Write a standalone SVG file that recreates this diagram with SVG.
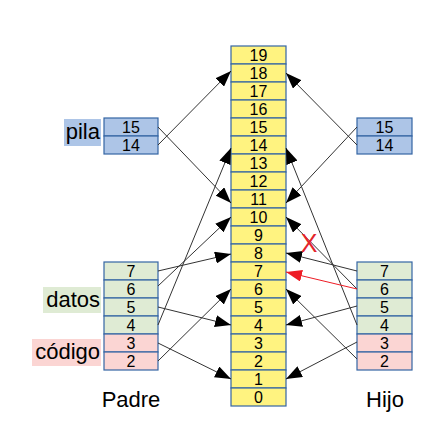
<svg xmlns="http://www.w3.org/2000/svg" width="444" height="439" viewBox="0 0 444 439">
<style>
.c{stroke:#3465a4;stroke-width:1.2}
.y{fill:#fff380}
.b{fill:#adc5e7}
.g{fill:#dfebd4}
.p{fill:#fbd5d3}
.n{font-family:"Liberation Sans",Arial,sans-serif;font-size:16px;text-anchor:middle;fill:#000}
.l{font-family:"Liberation Sans",Arial,sans-serif;font-size:22px;fill:#000}
.k{stroke:#333;stroke-width:1;fill:none}
.r{stroke:#ee1c25;stroke-width:1;fill:none}
</style>
<defs>
<marker id="ah" markerWidth="16" markerHeight="12" refX="16" refY="6" orient="auto" markerUnits="userSpaceOnUse"><path d="M0,0 L16,6 L0,12 z" fill="#000"/></marker>
<marker id="ahr" markerWidth="16" markerHeight="12" refX="16" refY="6" orient="auto" markerUnits="userSpaceOnUse"><path d="M0,0 L16,6 L0,12 z" fill="#ee1c25"/></marker>
</defs>
<rect width="444" height="439" fill="#fff"/>

<g id="memoria">
<g class="c y">
<rect x="231" y="46" width="55" height="18"/><rect x="231" y="64" width="55" height="18"/><rect x="231" y="82" width="55" height="18"/><rect x="231" y="100" width="55" height="18"/><rect x="231" y="118" width="55" height="18"/><rect x="231" y="136" width="55" height="18"/><rect x="231" y="154" width="55" height="18"/><rect x="231" y="172" width="55" height="18"/><rect x="231" y="190" width="55" height="18"/><rect x="231" y="208" width="55" height="18"/><rect x="231" y="226" width="55" height="18"/><rect x="231" y="244" width="55" height="18"/><rect x="231" y="262" width="55" height="18"/><rect x="231" y="280" width="55" height="18"/><rect x="231" y="298" width="55" height="18"/><rect x="231" y="316" width="55" height="18"/><rect x="231" y="334" width="55" height="18"/><rect x="231" y="352" width="55" height="18"/><rect x="231" y="370" width="55" height="18"/><rect x="231" y="388" width="55" height="18"/>
</g>
<g class="n">
<text x="258.5" y="60.6">19</text><text x="258.5" y="78.6">18</text><text x="258.5" y="96.6">17</text><text x="258.5" y="114.6">16</text><text x="258.5" y="132.6">15</text><text x="258.5" y="150.6">14</text><text x="258.5" y="168.6">13</text><text x="258.5" y="186.6">12</text><text x="258.5" y="204.6">11</text><text x="258.5" y="222.6">10</text><text x="258.5" y="240.6">9</text><text x="258.5" y="258.6">8</text><text x="258.5" y="276.6">7</text><text x="258.5" y="294.6">6</text><text x="258.5" y="312.6">5</text><text x="258.5" y="330.6">4</text><text x="258.5" y="348.6">3</text><text x="258.5" y="366.6">2</text><text x="258.5" y="384.6">1</text><text x="258.5" y="402.6">0</text>
</g>
</g>

<g id="padre-pila">
<rect x="64" y="119" width="37" height="27" class="b"/>
<text x="100" y="138.5" class="l" text-anchor="end">pila</text>
<rect x="104" y="118" width="54" height="18" class="c b"/><rect x="104" y="136" width="54" height="18" class="c b"/>
<text x="131" y="132.6" class="n">15</text><text x="131" y="150.6" class="n">14</text>
</g>

<g id="padre-datos">
<rect x="43" y="287" width="58" height="26" class="g"/>
<text x="100" y="306.5" class="l" text-anchor="end">datos</text>
<rect x="104" y="262" width="54" height="18" class="c g"/><rect x="104" y="280" width="54" height="18" class="c g"/><rect x="104" y="298" width="54" height="18" class="c g"/><rect x="104" y="316" width="54" height="18" class="c g"/>
<text x="131" y="276.6" class="n">7</text><text x="131" y="294.6" class="n">6</text><text x="131" y="312.6" class="n">5</text><text x="131" y="330.6" class="n">4</text>
</g>

<g id="padre-codigo">
<rect x="32" y="339" width="69" height="27" class="p"/>
<text x="100" y="359" class="l" text-anchor="end">código</text>
<rect x="104" y="334" width="54" height="18" class="c p"/><rect x="104" y="352" width="54" height="18" class="c p"/>
<text x="131" y="348.6" class="n">3</text><text x="131" y="366.6" class="n">2</text>
</g>

<g id="padre-label"><text x="131" y="407" class="l" text-anchor="middle">Padre</text></g>

<g id="hijo-pila">
<rect x="357" y="118" width="55" height="18" class="c b"/><rect x="357" y="136" width="55" height="18" class="c b"/>
<text x="384.5" y="132.6" class="n">15</text><text x="384.5" y="150.6" class="n">14</text>
</g>

<g id="hijo-datos">
<rect x="357" y="262" width="55" height="18" class="c g"/><rect x="357" y="280" width="55" height="18" class="c g"/><rect x="357" y="298" width="55" height="18" class="c g"/><rect x="357" y="316" width="55" height="18" class="c g"/>
<text x="384.5" y="276.6" class="n">7</text><text x="384.5" y="294.6" class="n">6</text><text x="384.5" y="312.6" class="n">5</text><text x="384.5" y="330.6" class="n">4</text>
</g>

<g id="hijo-codigo">
<rect x="357" y="334" width="55" height="18" class="c p"/><rect x="357" y="352" width="55" height="18" class="c p"/>
<text x="384.5" y="348.6" class="n">3</text><text x="384.5" y="366.6" class="n">2</text>
</g>

<g id="hijo-label"><text x="385" y="407" class="l" text-anchor="middle">Hijo</text></g>

<g id="connectors">
<line x1="158" y1="145" x2="231" y2="71" class="k" marker-end="url(#ah)"/>
<line x1="158" y1="127" x2="231" y2="203" class="k" marker-end="url(#ah)"/>
<line x1="158" y1="271" x2="231" y2="254" class="k" marker-end="url(#ah)"/>
<line x1="158" y1="286" x2="231" y2="217" class="k" marker-end="url(#ah)"/>
<line x1="158" y1="307" x2="231" y2="325" class="k" marker-end="url(#ah)"/>
<line x1="158" y1="325" x2="231" y2="148" class="k" marker-end="url(#ah)"/>
<line x1="158" y1="343" x2="231" y2="379" class="k" marker-end="url(#ah)"/>
<line x1="158" y1="361" x2="231" y2="289" class="k" marker-end="url(#ah)"/>

<line x1="357" y1="145" x2="286" y2="73" class="k" marker-end="url(#ah)"/>
<line x1="357" y1="127" x2="286" y2="203" class="k" marker-end="url(#ah)"/>
<line x1="357" y1="271" x2="286" y2="253" class="k" marker-end="url(#ah)"/>
<line x1="357" y1="289" x2="286" y2="217" class="k" marker-end="url(#ah)"/>
<line x1="357" y1="306" x2="286" y2="325" class="k" marker-end="url(#ah)"/>
<line x1="357" y1="325" x2="286" y2="148" class="k" marker-end="url(#ah)"/>
<line x1="357" y1="342" x2="286" y2="379" class="k" marker-end="url(#ah)"/>
<line x1="357" y1="359" x2="286" y2="289" class="k" marker-end="url(#ah)"/>
<line x1="357" y1="289" x2="286" y2="272" class="r" marker-end="url(#ahr)"/>
</g>

<g id="cruz"><text x="309" y="251.5" font-family="Liberation Sans,Arial,sans-serif" font-size="25" text-anchor="middle" fill="#e3242b">X</text></g>
</svg>
